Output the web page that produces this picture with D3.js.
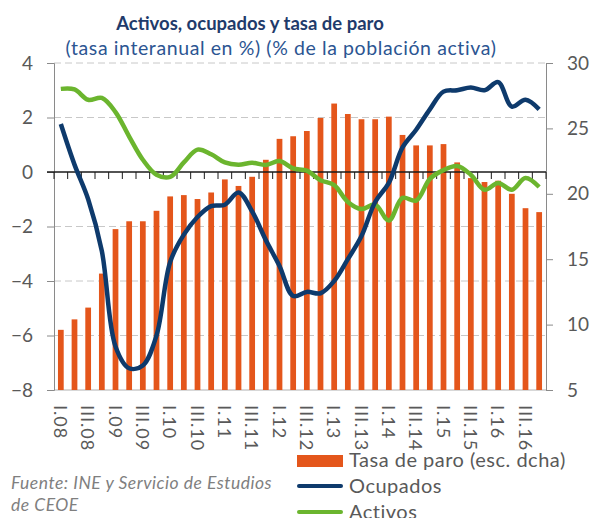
<!DOCTYPE html>
<html>
<head>
<meta charset="utf-8">
<script src="https://cdn.jsdelivr.net/npm/d3@7"></script>
<style>
  body { margin: 0; background: #fff; }
  svg text { font-family: Lato, "Noto Sans", sans-serif; }
</style>
</head>
<body>
<div id="chart"></div>
<script>
// quarters 2008 Q1 .. 2016 Q4
const years = ["08", "09", "10", "11", "12", "13", "14", "15", "16"];
const romans = ["I", "II", "III", "IV"];
const quarters = [];
years.forEach(y => romans.forEach(r => quarters.push(r + "." + y)));

// unemployment rate, % of active population (right axis)
const tasaParo = [9.6, 10.4, 11.3, 13.9, 17.3, 17.9, 17.9, 18.7,
    19.8, 19.9, 19.6, 20.1, 21.1, 20.6, 21.3, 22.6,
    24.2, 24.4, 24.8, 25.8, 26.9, 26.1, 25.7, 25.7,
    25.9, 24.5, 23.7, 23.7, 23.8, 22.4, 21.2, 20.9,
    21.0, 20.0, 18.9, 18.6];

// employed, yoy % (left axis)
const ocupados = [1.76, 0.27, -1.0, -2.9, -6.4, -7.2, -7.1, -6.0,
    -3.3, -2.3, -1.65, -1.25, -1.2, -0.75, -1.45, -2.5,
    -3.45, -4.55, -4.4, -4.45, -4.0, -3.2, -2.35, -1.1,
    -0.4, 0.9, 1.55, 2.3, 2.95, 3.0, 3.1, 3.0,
    3.3, 2.4, 2.65, 2.3];

// active population, yoy % (left axis)
const activos = [3.05, 3.03, 2.65, 2.72, 2.2, 1.3, 0.45, -0.1,
    -0.18, 0.35, 0.82, 0.65, 0.35, 0.27, 0.34, 0.26,
    0.4, 0.13, 0.05, -0.3, -0.48, -1.1, -1.36, -1.2,
    -1.78, -0.95, -1.05, -0.25, 0.07, 0.22, -0.1, -0.65,
    -0.4, -0.65, -0.22, -0.55];

const leftTicks = [-8, -6, -4, -2, 0, 2, 4];
const rightTicks = [5, 10, 15, 20, 25, 30];

const width = 591, height = 518;
const margin = {top: 63, right: 45, bottom: 128, left: 54};
const plotRight = width - margin.right;
const plotBottom = height - margin.bottom;

const svg = d3.select("#chart").append("svg")
    .attr("width", width)
    .attr("height", height);

const x = d3.scaleBand().domain(quarters).range([margin.left, plotRight]).padding(0);
const yLeft = d3.scaleLinear().domain([-8, 4]).range([plotBottom, margin.top]);
const yRight = d3.scaleLinear().domain([5, 30]).range([plotBottom, margin.top]);

const gray = "#595959";

// title
svg.append("text")
    .attr("x", 250).attr("y", 30)
    .attr("text-anchor", "middle")
    .attr("font-size", 18.5).attr("font-weight", "bold")
    .attr("fill", "#1f3b6b")
    .text("Activos, ocupados y tasa de paro");
svg.append("text")
    .attr("x", 281).attr("y", 55)
    .attr("text-anchor", "middle")
    .attr("font-size", 19.5).attr("letter-spacing", 0.6)
    .attr("fill", "#2c5592")
    .text("(tasa interanual en %) (% de la población activa)");

// gridlines from the left axis
svg.append("g").selectAll("line")
    .data(leftTicks.filter(d => d !== 0 && d !== -8))
    .join("line")
    .attr("x1", margin.left).attr("x2", plotRight)
    .attr("y1", d => yLeft(d)).attr("y2", d => yLeft(d))
    .attr("stroke", "#c8c8c8").attr("stroke-width", 1)
    .attr("stroke-dasharray", "7,4");

svg.append("line")
    .attr("x1", margin.left).attr("x2", plotRight)
    .attr("y1", yLeft(-8)).attr("y2", yLeft(-8))
    .attr("stroke", "#b0b0b0");

// bars
const bw = x.bandwidth() * 0.42;
svg.append("g").selectAll("rect")
    .data(tasaParo)
    .join("rect")
    .attr("x", (d, i) => x(quarters[i]) + x.bandwidth() / 2 - bw / 2)
    .attr("width", bw)
    .attr("y", d => yRight(d))
    .attr("height", d => yRight(5) - yRight(d))
    .attr("fill", "#e4561b");

// left axis
const axL = svg.append("g")
    .attr("transform", `translate(${margin.left},0)`)
    .call(d3.axisLeft(yLeft).tickValues(leftTicks).tickSize(7).tickPadding(14));
axL.select(".domain").attr("stroke", "#8a8a8a");
axL.selectAll(".tick line").attr("stroke", "#8a8a8a");
axL.selectAll("text").attr("font-size", 19).attr("fill", gray)
    .style("font-family", "Lato, sans-serif");

// right axis
const axR = svg.append("g")
    .attr("transform", `translate(${plotRight},0)`)
    .call(d3.axisRight(yRight).tickValues(rightTicks).tickSize(7).tickPadding(14));
axR.select(".domain").attr("stroke", "#8a8a8a");
axR.selectAll(".tick line").attr("stroke", "#8a8a8a");
axR.selectAll("text").attr("font-size", 19).attr("fill", gray)
    .style("font-family", "Lato, sans-serif");

// zero line with category ticks
const y0 = yLeft(0);
svg.append("line")
    .attr("x1", margin.left - 7).attr("x2", plotRight)
    .attr("y1", y0).attr("y2", y0)
    .attr("stroke", "#1a1a1a").attr("stroke-width", 1.3);
svg.append("g").selectAll("line")
    .data(quarters.map(q => x(q)).concat([plotRight]))
    .join("line")
    .attr("x1", d => d).attr("x2", d => d)
    .attr("y1", y0).attr("y2", y0 + 7)
    .attr("stroke", "#1a1a1a").attr("stroke-width", 1);

// lines
const line = d3.line()
    .x((d, i) => x(quarters[i]) + x.bandwidth() / 2)
    .y(d => yLeft(d))
    .curve(d3.curveCatmullRom.alpha(0.5));

svg.append("path")
    .datum(activos)
    .attr("d", line)
    .attr("fill", "none")
    .attr("stroke", "#6bb52e").attr("stroke-width", 4.5)
    .attr("stroke-linejoin", "round");

svg.append("path")
    .datum(ocupados)
    .attr("d", line)
    .attr("fill", "none")
    .attr("stroke", "#0e3a6c").attr("stroke-width", 4.5)
    .attr("stroke-linejoin", "round");

// category labels (every other quarter)
svg.append("g").selectAll("text")
    .data(quarters.filter((q, i) => i % 2 === 0))
    .join("text")
    .attr("transform", d => `translate(${x(d) + x.bandwidth() / 2},405) rotate(90)`)
    .attr("dominant-baseline", "central")
    .attr("font-size", 18).attr("letter-spacing", 1)
    .attr("fill", gray)
    .text(d => d);

// legend
const legend = svg.append("g");
legend.append("rect")
    .attr("x", 297).attr("y", 455).attr("width", 46).attr("height", 12)
    .attr("fill", "#e4561b");
legend.append("line")
    .attr("x1", 299).attr("x2", 341).attr("y1", 486).attr("y2", 486)
    .attr("stroke", "#0e3a6c").attr("stroke-width", 4).attr("stroke-linecap", "round");
legend.append("line")
    .attr("x1", 299).attr("x2", 341).attr("y1", 512).attr("y2", 512)
    .attr("stroke", "#6bb52e").attr("stroke-width", 4).attr("stroke-linecap", "round");
const legendText = ["Tasa de paro (esc. dcha)", "Ocupados", "Activos"];
legend.selectAll("text")
    .data(legendText)
    .join("text")
    .attr("x", 349)
    .attr("y", (d, i) => 467 + i * 26)
    .attr("font-size", 20).attr("letter-spacing", 0.5)
    .attr("fill", gray)
    .text(d => d);

// source
svg.append("text")
    .attr("x", 11).attr("y", 489)
    .attr("font-size", 17.5).attr("font-style", "italic").attr("letter-spacing", 0.5)
    .attr("fill", "#7f7f7f")
    .text("Fuente: INE y Servicio de Estudios");
svg.append("text")
    .attr("x", 11).attr("y", 511)
    .attr("font-size", 17.5).attr("font-style", "italic").attr("letter-spacing", 0.5)
    .attr("fill", "#7f7f7f")
    .text("de CEOE");
</script>
</body>
</html>
